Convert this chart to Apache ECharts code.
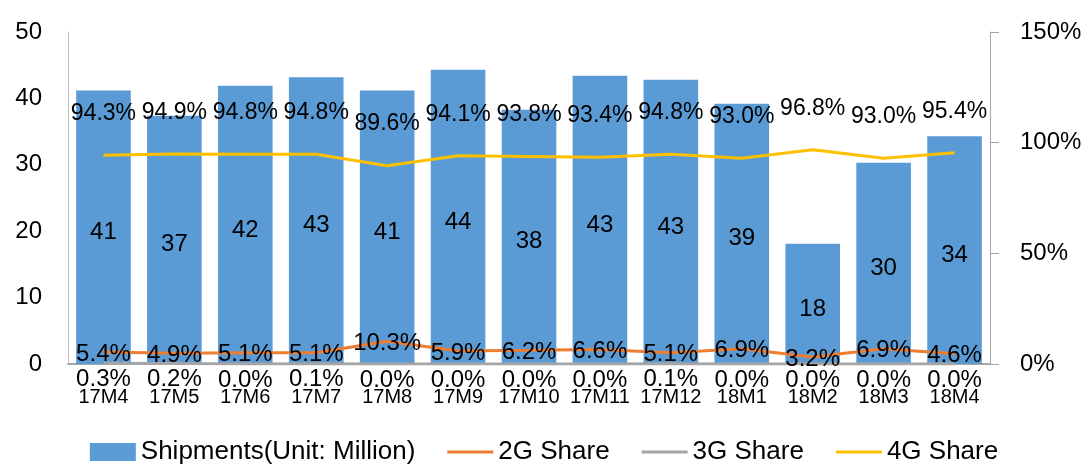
<!DOCTYPE html>
<html><head><meta charset="utf-8">
<script src="https://cdn.jsdelivr.net/npm/echarts@6/dist/echarts.min.js"></script>
<style>html,body{margin:0;padding:0;background:#fff}#c{width:1088px;height:464px}</style>
</head><body><div id="c"></div>
<script>
const categories = ['17M4','17M5','17M6','17M7','17M8','17M9','17M10','17M11','17M12','18M1','18M2','18M3','18M4'];
const shipments = [41.2,37.4,41.9,43.2,41.2,44.3,38.3,43.4,42.8,39.2,18.1,30.3,34.3];
const share2G = [5.4,4.9,5.1,5.1,10.3,5.9,6.2,6.6,5.1,6.9,3.2,6.9,4.6];
const share3G = [0.3,0.2,0.0,0.1,0.0,0.0,0.0,0.0,0.1,0.0,0.0,0.0,0.0];
const share4G = [94.3,94.9,94.8,94.8,89.6,94.1,93.8,93.4,94.8,93.0,96.8,93.0,95.4];
const leftTicks = [0,10,20,30,40,50];
const rightTicks = [0,50,100,150];

const FONT = 'Liberation Sans, Arial, sans-serif';
const pct = p => p.value.toFixed(1) + '%';
const lineIcon = 'path://M0,0 H50 V3.5 H0 Z';
const chart = echarts.init(document.getElementById('c'));
chart.setOption({
  animation: false,
  textStyle: {fontFamily: FONT, color: '#000'},
  grid: {left: 68, right: 98, top: 32, bottom: 100},
  legend: {
    top: 434, left: 'center', itemGap: 32, itemWidth: 46, itemHeight: 18,
    textStyle: {fontFamily: FONT, fontSize: 26, color: '#000'},
    data: [{name: 'Shipments(Unit: Million)', icon: 'rect'},
           {name: '2G Share', icon: lineIcon},
           {name: '3G Share', icon: lineIcon},
           {name: '4G Share', icon: lineIcon}]
  },
  xAxis: {
    type: 'category', data: categories,
    axisLine: {lineStyle: {color: '#a6a6a6', width: 2}},
    axisTick: {show: false},
    axisLabel: {interval: 0, fontSize: 20, margin: 23, color: '#000', fontFamily: FONT}
  },
  yAxis: [{
    type: 'value', min: leftTicks[0], max: leftTicks[leftTicks.length-1], interval: 10,
    axisLine: {show: true, lineStyle: {color: '#bfbfbf'}},
    axisTick: {show: false}, splitLine: {show: false},
    axisLabel: {fontSize: 24, margin: 26, color: '#000', fontFamily: FONT}
  }, {
    type: 'value', min: rightTicks[0], max: rightTicks[rightTicks.length-1], interval: 50,
    axisLine: {show: true, lineStyle: {color: '#a6a6a6'}},
    axisTick: {show: true, length: 9, lineStyle: {color: '#a6a6a6'}}, splitLine: {show: false},
    axisLabel: {fontSize: 24, margin: 30, color: '#000', fontFamily: FONT, formatter: v => v + '%'}
  }],
  series: [{
    name: 'Shipments(Unit: Million)', type: 'bar', data: shipments, barWidth: '77%',
    itemStyle: {color: '#5b9bd5'},
    label: {show: true, position: 'inside', offset: [0, 5], fontSize: 24, color: '#000', fontFamily: FONT,
      formatter: p => Math.round(p.value)}
  }, {
    name: '2G Share', type: 'line', yAxisIndex: 1, data: share2G, symbol: 'circle', symbolSize: 0.1,
    lineStyle: {color: '#ed7d31', width: 3}, itemStyle: {color: '#ed7d31'},
    label: {show: true, position: 'inside', offset: [0, 2], fontSize: 24, color: '#000', fontFamily: FONT, formatter: pct}
  }, {
    name: '3G Share', type: 'line', yAxisIndex: 1, data: share3G, symbol: 'circle', symbolSize: 0.1,
    lineStyle: {color: '#a5a5a5', width: 3}, itemStyle: {color: '#a5a5a5'},
    label: {show: true, position: 'bottom', distance: 4, fontSize: 24, color: '#000', fontFamily: FONT, formatter: pct}
  }, {
    name: '4G Share', type: 'line', yAxisIndex: 1, data: share4G, symbol: 'circle', symbolSize: 0.1,
    lineStyle: {color: '#ffc000', width: 3}, itemStyle: {color: '#ffc000'},
    label: {show: true, position: 'top', distance: 30, fontSize: 23, color: '#000', fontFamily: FONT, formatter: pct}
  }]
});
</script></body></html>
